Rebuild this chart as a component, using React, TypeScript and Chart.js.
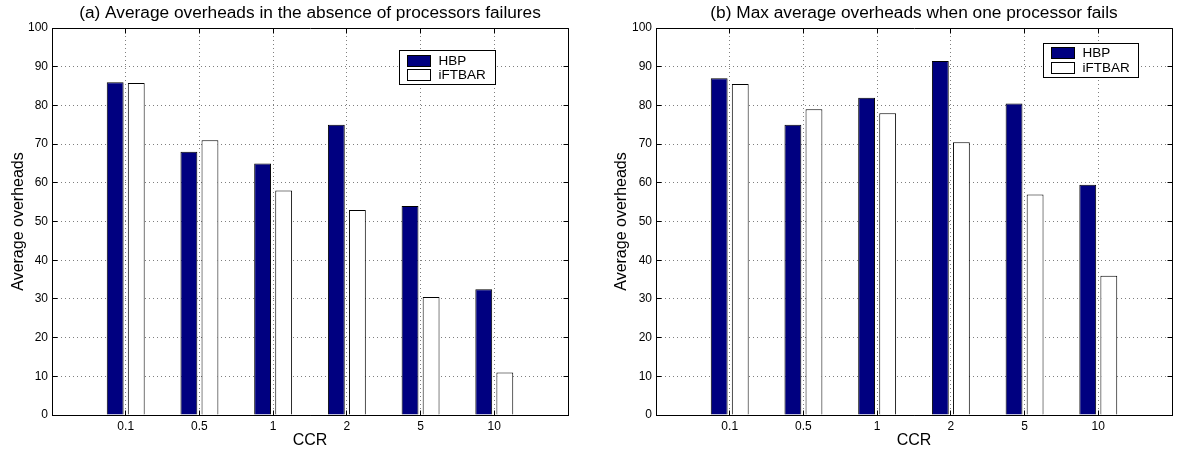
import React, { useEffect, useRef } from "react";
import { Chart, registerables } from "chart.js";

Chart.register(...registerables);

// ---- data ----
const categories = ["0.1", "0.5", "1", "2", "5", "10"];
const seriesNames = ["HBP", "iFTBAR"];
const hbpNoFailure = [86, 68, 65, 75, 54, 32.5];
const iftbarNoFailure = [85.8, 71, 58, 53, 30.5, 11];
const hbpOneFailure = [87, 75, 82, 91.5, 80.5, 59.5];
const iftbarOneFailure = [85.5, 79, 78, 70.5, 57, 36];
const yMin = 0;
const yMax = 100;
const yStep = 10;
const titleA = "(a) Average overheads in the absence of processors failures";
const titleB = "(b) Max average overheads when one processor fails";
const xLabel = "CCR";
const yLabel = "Average overheads";

const FONT = "'Liberation Sans', Arial, Helvetica, sans-serif";
const HBP_COLOR = "#000080";
const IFTBAR_COLOR = "#ffffff";

const alignPx = (p: number) => Math.round(p - 0.5) + 0.5;

const framePlugin = {
  id: "matlabFrame",
  afterDatasetsDraw(chart: any) {
    const { ctx, chartArea: a, scales } = chart;
    const x = scales.x;
    const y = scales.y;
    const l = alignPx(a.left);
    const r = alignPx(a.right);
    const t = alignPx(a.top);
    const b = alignPx(a.bottom);
    const len = 5;
    ctx.save();
    ctx.setLineDash([]);
    ctx.strokeStyle = "#000";
    ctx.lineWidth = 1;
    ctx.beginPath();
    ctx.rect(l, t, r - l, b - t);
    ctx.stroke();
    ctx.beginPath();
    y.ticks.forEach((tk: any) => {
      const py = alignPx(y.getPixelForValue(tk.value));
      ctx.moveTo(l, py);
      ctx.lineTo(l + len, py);
      ctx.moveTo(r, py);
      ctx.lineTo(r - len, py);
    });
    categories.forEach((_, i) => {
      const px = alignPx(x.getPixelForValue(i + 1));
      ctx.moveTo(px, b);
      ctx.lineTo(px, b - len);
      ctx.moveTo(px, t);
      ctx.lineTo(px, t + len);
    });
    ctx.stroke();
    ctx.restore();
  },
};

const boxLegendPlugin = {
  id: "boxLegend",
  afterDraw(chart: any, _args: any, opts: any) {
    const { ctx, chartArea: a } = chart;
    const x0 = Math.round(a.left + opts.dx) + 0.5;
    const y0 = Math.round(a.top + opts.dy) + 0.5;
    ctx.save();
    ctx.setLineDash([]);
    ctx.lineWidth = 1;
    ctx.fillStyle = "#fff";
    ctx.strokeStyle = "#000";
    ctx.fillRect(x0, y0, opts.w, opts.h);
    ctx.strokeRect(x0, y0, opts.w, opts.h);
    chart.data.datasets.forEach((ds: any, i: number) => {
      const cy = y0 + opts.rows[i];
      const sy = Math.round(cy - 5.5) + 0.5;
      ctx.fillStyle = ds.backgroundColor;
      ctx.fillRect(x0 + 8, sy, 23, 11);
      ctx.strokeStyle = "#000";
      ctx.strokeRect(x0 + 8, sy, 23, 11);
      ctx.fillStyle = "#000";
      ctx.font = `13.5px ${FONT}`;
      ctx.textAlign = "left";
      ctx.textBaseline = "middle";
      ctx.fillText(ds.label, x0 + 39, cy + 0.5);
    });
    ctx.restore();
  },
};

type PanelProps = {
  left: number;
  width: number;
  title: string;
  hbp: number[];
  iftbar: number[];
  yAxisWidth: number;
  yTitlePad: number;
  rightPad: number;
  legend: { dx: number; dy: number; w: number; h: number; rows: number[] };
};

function Panel(props: PanelProps) {
  const ref = useRef<HTMLCanvasElement>(null);
  useEffect(() => {
    if (!ref.current) return;
    const labels = ["", ...categories, ""];
    const pad = (arr: number[]) => [null, ...arr, null];
    const gridCommon = {
      color: "rgba(0,0,0,0.5)",
      lineWidth: 1,
      drawTicks: false,
      borderDash: [1, 3],
    };
    const borderCommon = { display: true, color: "#000", width: 1, dash: [1, 3] };
    const chart = new Chart(ref.current, {
      type: "bar",
      data: {
        labels,
        datasets: [
          {
            label: seriesNames[0],
            data: pad(props.hbp) as any,
            backgroundColor: HBP_COLOR,
            borderColor: "#000",
            borderWidth: 1,
            categoryPercentage: 0.5714,
            barPercentage: 0.8,
          },
          {
            label: seriesNames[1],
            data: pad(props.iftbar) as any,
            backgroundColor: IFTBAR_COLOR,
            borderColor: "#000",
            borderWidth: 1,
            categoryPercentage: 0.5714,
            barPercentage: 0.8,
          },
        ],
      },
      options: {
        animation: false,
        responsive: false,
        maintainAspectRatio: false,
        layout: { padding: { left: 0, right: props.rightPad, top: 0, bottom: 0 } },
        plugins: {
          legend: { display: false },
          tooltip: { enabled: false },
          title: {
            display: true,
            text: props.title,
            fullSize: false,
            color: "#000",
            font: { family: FONT, size: 17.3, weight: "normal", lineHeight: 1.2 },
            padding: { top: 3, bottom: 4.24 },
          },
          boxLegend: props.legend,
        } as any,
        scales: {
          x: {
            type: "category",
            offset: false,
            grid: { ...gridCommon, offset: false },
            border: borderCommon,
            ticks: {
              color: "#000",
              font: { family: FONT, size: 12 },
              padding: 4,
              maxRotation: 0,
              autoSkip: false,
            },
            title: {
              display: true,
              text: xLabel,
              color: "#000",
              font: { family: FONT, size: 16 },
              padding: { top: 0, bottom: 4.7 },
            },
            afterFit: (s: any) => {
              s.height = 40;
            },
          },
          y: {
            min: yMin,
            max: yMax,
            grid: gridCommon,
            border: borderCommon,
            ticks: {
              stepSize: yStep,
              color: "#000",
              font: { family: FONT, size: 12 },
              padding: 4,
            },
            title: {
              display: true,
              text: yLabel,
              color: "#000",
              font: { family: FONT, size: 16 },
              padding: { top: props.yTitlePad, bottom: 0 },
            },
            afterFit: (s: any) => {
              s.width = props.yAxisWidth;
            },
          },
        } as any,
      },
      plugins: [framePlugin, boxLegendPlugin],
    });
    return () => chart.destroy();
  }, []);
  return (
    <canvas
      ref={ref}
      width={props.width}
      height={455}
      style={{ position: "absolute", left: props.left, top: 0, width: props.width, height: 455 }}
    />
  );
}

export default function App() {
  return (
    <div
      style={{
        position: "fixed",
        left: 0,
        top: 0,
        width: 1177,
        height: 455,
        background: "#fff",
        overflow: "hidden",
      }}
    >
      <Panel
        left={0}
        width={600}
        title={titleA}
        hbp={hbpNoFailure}
        iftbar={iftbarNoFailure}
        yAxisWidth={52}
        yTitlePad={8.7}
        rightPad={32}
        legend={{ dx: 347, dy: 22, w: 96, h: 34, rows: [10, 24] }}
      />
      <Panel
        left={600}
        width={577}
        title={titleB}
        hbp={hbpOneFailure}
        iftbar={iftbarOneFailure}
        yAxisWidth={56}
        yTitlePad={12.4}
        rightPad={5}
        legend={{ dx: 387, dy: 15, w: 95, h: 34, rows: [9, 24] }}
      />
    </div>
  );
}
